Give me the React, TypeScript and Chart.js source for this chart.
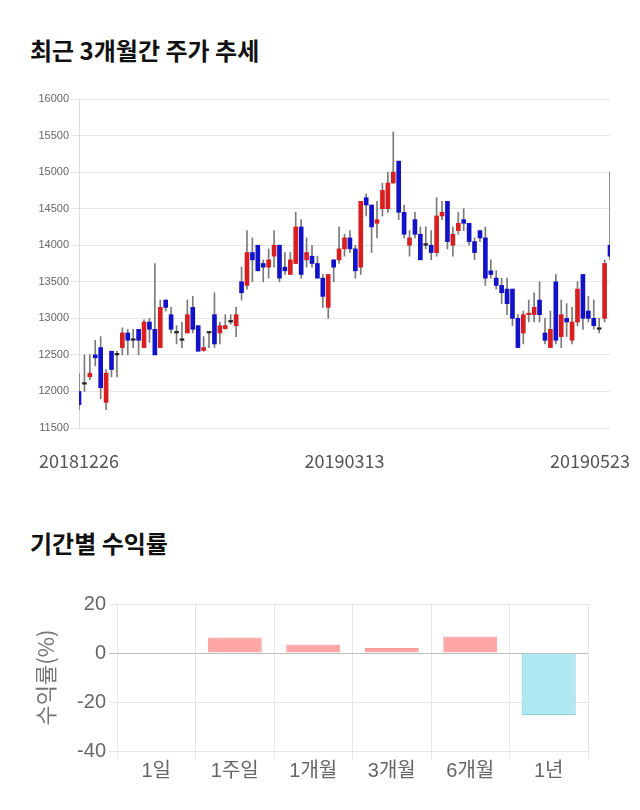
import React, { useEffect, useRef } from 'react';
import { Chart, registerables } from 'chart.js';

Chart.register(...registerables);

// ---- Candlestick data (trading days) ----
const dates = [
  '20181226', '20181227', '20181228',
  '20190102', '20190103', '20190104', '20190107', '20190108', '20190109', '20190110', '20190111',
  '20190114', '20190115', '20190116', '20190117', '20190118', '20190121', '20190122', '20190123',
  '20190124', '20190125', '20190128', '20190129', '20190130', '20190131',
  '20190201', '20190207', '20190208', '20190211', '20190212', '20190213', '20190214', '20190215',
  '20190218', '20190219', '20190220', '20190221', '20190222', '20190225', '20190226', '20190227', '20190228',
  '20190304', '20190305', '20190306', '20190307', '20190308', '20190311', '20190312', '20190313',
  '20190314', '20190315', '20190318', '20190319', '20190320', '20190321', '20190322', '20190325',
  '20190326', '20190327', '20190328', '20190329',
  '20190401', '20190402', '20190403', '20190404', '20190405', '20190408', '20190409', '20190410',
  '20190411', '20190412', '20190415', '20190416', '20190417', '20190418', '20190419', '20190422',
  '20190423', '20190424', '20190425', '20190426', '20190429', '20190430',
  '20190502', '20190503', '20190507', '20190508', '20190509', '20190510', '20190513', '20190514',
  '20190515', '20190516', '20190517', '20190520', '20190521', '20190522', '20190523',
];

const opens = [
  12000, 12100, 12200, 12500, 12600, 11850, 12550, 12500, 12600, 12800,
  12700, 12850, 12600, 12950, 12850, 12600, 13250, 13050, 12800, 12700,
  12800, 13150, 12900, 12560, 12800, 13050, 12800, 12860, 12950, 12900,
  13500, 13450, 13900, 14000, 13750, 13700, 13850, 14000, 13700, 13600,
  13750, 14250, 13800, 13850, 13750, 13550, 13150, 13800, 13800, 13950,
  14100, 13950, 13700, 14650, 14550, 14300, 14500, 14500, 14850, 15150,
  14450, 14000, 14350, 14150, 14000, 14000, 13900, 14400, 14600, 14000,
  14200, 14350, 14300, 14050, 14200, 14100, 13650, 13550, 13450, 13400,
  13400, 13000, 12800, 13050, 13050, 13250, 12800, 12600, 13500, 12750,
  13000, 12700, 12950, 13600, 13100, 13000, 12850, 13000, 14000,
];

const highs = [
  12250, 12500, 12500, 12700, 12750, 12300, 12550, 12550, 12870, 12850,
  12850, 12850, 12980, 13000, 13750, 13250, 13250, 13150, 12900, 12950,
  13250, 13300, 12900, 12750, 12800, 13350, 12950, 13050, 13050, 13150,
  13700, 14200, 14100, 14000, 13800, 13950, 14200, 14000, 13900, 13900,
  14450, 14350, 14100, 14000, 13850, 13600, 13600, 13800, 14250, 14150,
  14200, 14000, 14600, 14700, 14550, 14600, 14850, 15000, 15550, 15150,
  14550, 14200, 14450, 14250, 14250, 14200, 14650, 14600, 14600, 14250,
  14450, 14500, 14300, 14100, 14200, 14250, 13800, 13650, 13550, 13550,
  13400, 13050, 13100, 13250, 13350, 13500, 13000, 13100, 13600, 13250,
  13200, 13150, 13500, 13600, 13300, 13250, 13000, 13800, 15000,
];

const lows = [
  11750, 12000, 12160, 12350, 11900, 11750, 12200, 12200, 12500, 12500,
  12600, 12500, 12600, 12670, 12500, 12600, 13100, 12800, 12650, 12600,
  12800, 12800, 12550, 12550, 12600, 12600, 12650, 12850, 12920, 12750,
  13250, 13400, 13500, 13650, 13500, 13550, 13700, 13500, 13600, 13600,
  13750, 13550, 13700, 13700, 13550, 13150, 13000, 13500, 13750, 13850,
  13900, 13550, 13600, 14400, 13900, 14100, 14400, 14450, 14850, 14350,
  14100, 13850, 14100, 13800, 13950, 13800, 13850, 14350, 13950, 13850,
  14150, 14200, 14000, 13800, 14050, 13450, 13550, 13400, 13200, 13050,
  12900, 12600, 12650, 12950, 12950, 12950, 12650, 12600, 12650, 12600,
  12750, 12650, 12900, 12850, 12950, 12850, 12800, 12950, 13800,
];

const closes = [
  11820, 12100, 12250, 12460, 12050, 12250, 12300, 12500, 12800, 12700,
  12700, 12700, 12950, 12850, 12500, 13150, 13150, 12850, 12800, 12700,
  13050, 12850, 12550, 12600, 12800, 12650, 12900, 12900, 12950, 13050,
  13350, 13900, 13800, 13650, 13700, 13800, 14000, 13550, 13650, 13800,
  14250, 13600, 13900, 13750, 13550, 13300, 13600, 13700, 13950, 14100,
  13950, 13650, 14600, 14550, 14250, 14350, 14750, 14850, 15000, 14450,
  14150, 14100, 14150, 13800, 14000, 13900, 14400, 14450, 14050, 14150,
  14300, 14300, 14050, 13900, 14100, 13550, 13600, 13450, 13350, 13200,
  13000, 12600, 13050, 13060, 13150, 13050, 12700, 12850, 12700, 13050,
  12950, 12950, 13400, 13000, 13000, 12900, 12850, 13750, 13850,
];

const dateTickLabels = ['20181226', '20190313', '20190523'];

// ---- Period return data ----
const periodLabels = ['1일', '1주일', '1개월', '3개월', '6개월', '1년'];
const periodReturns = [0, 6.3, 3.5, 2.0, 6.7, -25.3];

const UP = '#d81e1e';
const UP_BORDER = '#b41414';
const DOWN = '#1212c8';
const DOWN_BORDER = '#0a0a96';
const FLAT = '#222222';

const dateLabelPlugin = {
  id: 'dateLabels',
  afterDraw(chart: any) {
    const { ctx, chartArea } = chart;
    const xs = chart.scales.x;
    ctx.save();
    ctx.font = "18px 'Noto Sans CJK KR', 'Noto Sans', sans-serif";
    ctx.fillStyle = '#555';
    ctx.textBaseline = 'middle';
    ctx.textAlign = 'left';
    dateTickLabels.forEach((lbl) => {
      const i = dates.indexOf(lbl);
      if (i < 0) return;
      const px = xs.getPixelForValue(i);
      const w = ctx.measureText(lbl).width;
      let left = px - w / 2;
      left = Math.max(10, Math.min(left, chart.width - 10 - w));
      ctx.fillText(lbl, left, chartArea.bottom + 33);
    });
    ctx.restore();
  },
};

export default function App() {
  const topRef = useRef<HTMLCanvasElement>(null);
  const botRef = useRef<HTMLCanvasElement>(null);

  useEffect(() => {
    const bodies = dates.map((_, i) => [opens[i], closes[i]]);
    const wicks = dates.map((_, i) => [lows[i], highs[i]]);
    const bodyColors = dates.map((_, i) =>
      closes[i] > opens[i] ? UP : closes[i] < opens[i] ? DOWN : FLAT
    );
    const bodyBorders = dates.map((_, i) =>
      closes[i] > opens[i] ? UP_BORDER : closes[i] < opens[i] ? DOWN_BORDER : FLAT
    );

    const c1 = new Chart(topRef.current as HTMLCanvasElement, {
      type: 'bar',
      data: {
        labels: dates,
        datasets: [
          {
            label: 'body',
            data: bodies as any,
            backgroundColor: bodyColors,
            borderColor: bodyBorders,
            borderWidth: 0,
            barThickness: 4,
            minBarLength: 1.5,
            grouped: false,
            order: 0,
          } as any,
          {
            label: 'wick',
            data: wicks as any,
            backgroundColor: '#7a7a7a',
            borderWidth: 0,
            barThickness: 1,
            grouped: false,
            order: 1,
          } as any,
        ],
      },
      options: {
        animation: false,
        responsive: false,
        maintainAspectRatio: false,
        layout: { padding: { left: 0, right: 30, top: 19, bottom: 52 } },
        plugins: { legend: { display: false }, tooltip: { enabled: false } },
        scales: {
          x: {
            type: 'category',
            display: false,
            offset: false,
            grid: { display: false },
          },
          y: {
            min: 11500,
            max: 16000,
            ticks: {
              stepSize: 500,
              color: '#666',
              padding: 2,
              font: { size: 11, family: "'Liberation Sans', Arial, sans-serif" },
              callback: (v: any) => String(v),
            },
            grid: { color: '#e6e6e6', tickLength: 8 },
            border: { color: '#dcdcdc' },
            afterFit: (s: any) => {
              s.width = 79;
            },
          } as any,
        },
      },
      plugins: [dateLabelPlugin],
    });

    const c2 = new Chart(botRef.current as HTMLCanvasElement, {
      type: 'bar',
      data: {
        labels: periodLabels,
        datasets: [
          {
            data: periodReturns,
            backgroundColor: periodReturns.map((v) => (v >= 0 ? '#ffa6a6' : '#b0e8f2')),
            borderColor: periodReturns.map((v) => (v >= 0 ? '#f29494' : '#8ed2e0')),
            borderWidth: 1,
            categoryPercentage: 0.8,
            barPercentage: 0.86,
          },
        ],
      },
      options: {
        animation: false,
        responsive: false,
        maintainAspectRatio: false,
        layout: { padding: { left: 28, right: 52, top: 24, bottom: 9 } },
        plugins: { legend: { display: false }, tooltip: { enabled: false } },
        scales: {
          x: {
            ticks: {
              color: '#666',
              padding: 0,
              font: { size: 20, family: "'Liberation Sans', 'Noto Sans CJK KR', sans-serif" },
            },
            grid: { color: '#e6e6e6', tickLength: 8 },
            border: { color: '#e6e6e6' },
            afterFit: (s: any) => {
              s.height = 40;
            },
          } as any,
          y: {
            min: -40,
            max: 20,
            ticks: {
              stepSize: 20,
              color: '#666',
              padding: 3,
              font: { size: 20, family: "'Liberation Sans', Arial, sans-serif" },
            },
            grid: {
              tickLength: 8,
              color: (ctx: any) => (ctx.tick && ctx.tick.value === 0 ? '#bdbdbd' : '#e6e6e6'),
            },
            border: { color: '#e6e6e6' },
            title: {
              display: true,
              text: '수익률(%)',
              color: '#777',
              font: { size: 22, family: "'Noto Sans CJK KR', sans-serif" },
            },
            afterFit: (s: any) => {
              s.width = 89;
            },
          } as any,
        },
      },
    });

    return () => {
      c1.destroy();
      c2.destroy();
    };
  }, []);

  const titleStyle: React.CSSProperties = {
    position: 'absolute',
    left: 30,
    fontSize: 24,
    lineHeight: '24px',
    fontWeight: 700,
    color: '#111',
    fontFamily: "'Noto Sans CJK KR', sans-serif",
    whiteSpace: 'nowrap',
  };

  return (
    <div
      style={{
        position: 'absolute',
        left: 0,
        top: 0,
        width: 640,
        height: 810,
        background: '#fff',
        overflow: 'hidden',
      }}
    >
      <div style={{ ...titleStyle, top: 38 }}>최근 3개월간 주가 추세</div>
      <canvas
        ref={topRef}
        width={640}
        height={400}
        style={{ position: 'absolute', left: 0, top: 80, width: 640, height: 400 }}
      />
      <div style={{ ...titleStyle, top: 531 }}>기간별 수익률</div>
      <canvas
        ref={botRef}
        width={640}
        height={220}
        style={{ position: 'absolute', left: 0, top: 580, width: 640, height: 220 }}
      />
    </div>
  );
}
